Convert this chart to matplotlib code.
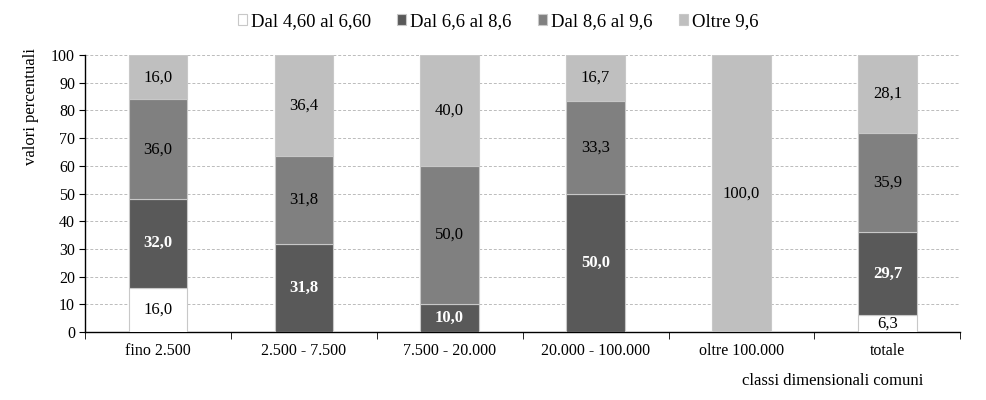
import matplotlib.pyplot as plt
import numpy as np

## --- Data ---
categories = ["fino 2.500", "2.500 - 7.500", "7.500 - 20.000",
              "20.000 - 100.000", "oltre 100.000", "totale"]
series_names = ["Dal 4,60 al 6,60", "Dal 6,6 al 8,6", "Dal 8,6 al 9,6", "Oltre 9,6"]
s1 = [16.0, 0, 0, 0, 0, 6.3]
s2 = [32.0, 31.8, 10.0, 50.0, 0, 29.7]
s3 = [36.0, 31.8, 50.0, 33.3, 0, 35.9]
s4 = [16.0, 36.4, 40.0, 16.7, 100.0, 28.1]

## --- Styles ---
COLORS = ["#FFFFFF", "#595959", "#808080", "#BFBFBF"]
LABEL_COLORS = ["black", "white", "black", "black"]
LABEL_WEIGHTS = ["normal", "bold", "normal", "normal"]
BAR_WIDTH = 0.4

plt.rcParams['font.family'] = ['Liberation Serif', 'DejaVu Serif']

fig = plt.figure(figsize=(9.86, 4), dpi=100)
ax = fig.add_axes([0.086, 0.17, 0.888, 0.6925])

x = np.arange(len(categories))
bottom = np.zeros(len(categories))
handles = []
for vals, name, col, lc, lw in zip([s1, s2, s3, s4], series_names, COLORS,
                                   LABEL_COLORS, LABEL_WEIGHTS):
    vals = np.array(vals, dtype=float)
    bars = ax.bar(x, vals, BAR_WIDTH, bottom=bottom, color=col,
                  edgecolor="#C8C8C8", linewidth=0.8, label=name, zorder=3)
    handles.append(bars)
    for xi, v, b in zip(x, vals, bottom):
        if v > 0:
            ax.text(xi, b + v / 2, f"{v:.1f}".replace(".", ","), ha="center",
                    va="center", fontsize=12, color=lc, fontweight=lw, zorder=4)
    bottom += vals

ax.set_ylim(0, 100)
ax.set_xlim(-0.5, len(categories) - 0.5)
ax.set_yticks(np.arange(0, 101, 10))
ax.tick_params(axis="y", labelsize=11.5, direction="out", length=4, pad=3)
ax.set_xticks(x)
ax.set_xticklabels(categories)
ax.tick_params(axis="x", which="major", length=0, labelsize=11.5, pad=8)
ax.set_xticks(np.arange(-0.5, len(categories), 1), minor=True)
ax.tick_params(axis="x", which="minor", length=5, direction="out")

ax.yaxis.grid(True, linestyle=(0, (3, 2)), color="#BBBBBB", linewidth=0.7, zorder=0)
ax.set_axisbelow(True)
for side in ["top", "right"]:
    ax.spines[side].set_visible(False)
ax.spines["left"].set_linewidth(1)
ax.spines["bottom"].set_linewidth(1)

fig.text(0.031, 0.733, "valori percentuali", rotation=90, ha="center",
         va="center", fontsize=12)
fig.text(0.844, 0.038, "classi dimensionali comuni", ha="center", fontsize=12)

fig.legend(handles=handles, labels=series_names, loc="upper center",
           bbox_to_anchor=(0.505, 1.01), ncol=4, frameon=False, fontsize=13.5,
           handlelength=0.5, handleheight=0.5, handletextpad=0.2,
           columnspacing=1.4)

fig.savefig("out.png", dpi=100)
